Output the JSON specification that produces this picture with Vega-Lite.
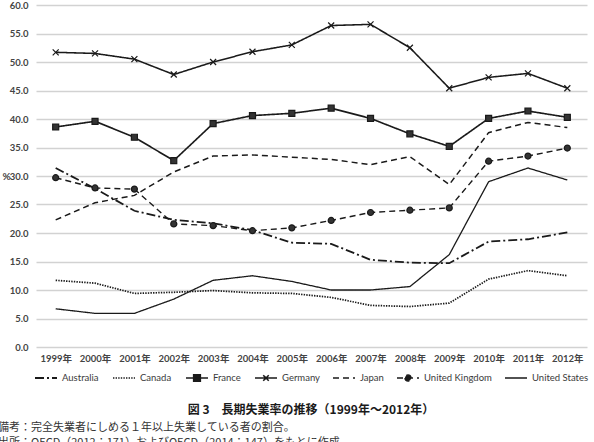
{
  "$schema": "https://vega.github.io/schema/vega-lite/v6.json",
  "width": 551,
  "height": 342,
  "autosize": {"type": "none"},
  "padding": {"left": 36, "top": 5, "right": 7, "bottom": 95},
  "background": "white",
  "title": {
    "text": ["備考：完全失業者にしめる１年以上失業している者の割合。", "出所：OECD（2012：171）およびOECD（2014：147）をもとに作成"],
    "orient": "bottom",
    "anchor": "start",
    "frame": "group",
    "dx": -38,
    "offset": 6,
    "font": "Noto Sans CJK JP",
    "fontSize": 11,
    "fontWeight": "normal",
    "color": "#333333",
    "lineHeight": 15
  },
  "datasets": {
    "ltu": [
      {"year": "1999", "country": "Australia", "rate": 31.4},
      {"year": "2000", "country": "Australia", "rate": 27.8},
      {"year": "2001", "country": "Australia", "rate": 23.9},
      {"year": "2002", "country": "Australia", "rate": 22.3},
      {"year": "2003", "country": "Australia", "rate": 21.7},
      {"year": "2004", "country": "Australia", "rate": 20.5},
      {"year": "2005", "country": "Australia", "rate": 18.3},
      {"year": "2006", "country": "Australia", "rate": 18.1},
      {"year": "2007", "country": "Australia", "rate": 15.3},
      {"year": "2008", "country": "Australia", "rate": 14.8},
      {"year": "2009", "country": "Australia", "rate": 14.7},
      {"year": "2010", "country": "Australia", "rate": 18.5},
      {"year": "2011", "country": "Australia", "rate": 18.9},
      {"year": "2012", "country": "Australia", "rate": 20.1},
      {"year": "1999", "country": "Canada", "rate": 11.7},
      {"year": "2000", "country": "Canada", "rate": 11.2},
      {"year": "2001", "country": "Canada", "rate": 9.4},
      {"year": "2002", "country": "Canada", "rate": 9.6},
      {"year": "2003", "country": "Canada", "rate": 9.9},
      {"year": "2004", "country": "Canada", "rate": 9.5},
      {"year": "2005", "country": "Canada", "rate": 9.4},
      {"year": "2006", "country": "Canada", "rate": 8.7},
      {"year": "2007", "country": "Canada", "rate": 7.3},
      {"year": "2008", "country": "Canada", "rate": 7.1},
      {"year": "2009", "country": "Canada", "rate": 7.7},
      {"year": "2010", "country": "Canada", "rate": 11.9},
      {"year": "2011", "country": "Canada", "rate": 13.4},
      {"year": "2012", "country": "Canada", "rate": 12.5},
      {"year": "1999", "country": "France", "rate": 38.6},
      {"year": "2000", "country": "France", "rate": 39.6},
      {"year": "2001", "country": "France", "rate": 36.8},
      {"year": "2002", "country": "France", "rate": 32.7},
      {"year": "2003", "country": "France", "rate": 39.2},
      {"year": "2004", "country": "France", "rate": 40.6},
      {"year": "2005", "country": "France", "rate": 41.0},
      {"year": "2006", "country": "France", "rate": 41.9},
      {"year": "2007", "country": "France", "rate": 40.1},
      {"year": "2008", "country": "France", "rate": 37.4},
      {"year": "2009", "country": "France", "rate": 35.2},
      {"year": "2010", "country": "France", "rate": 40.1},
      {"year": "2011", "country": "France", "rate": 41.4},
      {"year": "2012", "country": "France", "rate": 40.3},
      {"year": "1999", "country": "Germany", "rate": 51.7},
      {"year": "2000", "country": "Germany", "rate": 51.5},
      {"year": "2001", "country": "Germany", "rate": 50.5},
      {"year": "2002", "country": "Germany", "rate": 47.8},
      {"year": "2003", "country": "Germany", "rate": 50.0},
      {"year": "2004", "country": "Germany", "rate": 51.8},
      {"year": "2005", "country": "Germany", "rate": 53.0},
      {"year": "2006", "country": "Germany", "rate": 56.4},
      {"year": "2007", "country": "Germany", "rate": 56.6},
      {"year": "2008", "country": "Germany", "rate": 52.5},
      {"year": "2009", "country": "Germany", "rate": 45.4},
      {"year": "2010", "country": "Germany", "rate": 47.3},
      {"year": "2011", "country": "Germany", "rate": 48.0},
      {"year": "2012", "country": "Germany", "rate": 45.4},
      {"year": "1999", "country": "Japan", "rate": 22.3},
      {"year": "2000", "country": "Japan", "rate": 25.3},
      {"year": "2001", "country": "Japan", "rate": 26.6},
      {"year": "2002", "country": "Japan", "rate": 30.7},
      {"year": "2003", "country": "Japan", "rate": 33.5},
      {"year": "2004", "country": "Japan", "rate": 33.7},
      {"year": "2005", "country": "Japan", "rate": 33.3},
      {"year": "2006", "country": "Japan", "rate": 32.9},
      {"year": "2007", "country": "Japan", "rate": 32.0},
      {"year": "2008", "country": "Japan", "rate": 33.4},
      {"year": "2009", "country": "Japan", "rate": 28.5},
      {"year": "2010", "country": "Japan", "rate": 37.6},
      {"year": "2011", "country": "Japan", "rate": 39.4},
      {"year": "2012", "country": "Japan", "rate": 38.5},
      {"year": "1999", "country": "United Kingdom", "rate": 29.7},
      {"year": "2000", "country": "United Kingdom", "rate": 27.9},
      {"year": "2001", "country": "United Kingdom", "rate": 27.7},
      {"year": "2002", "country": "United Kingdom", "rate": 21.6},
      {"year": "2003", "country": "United Kingdom", "rate": 21.3},
      {"year": "2004", "country": "United Kingdom", "rate": 20.4},
      {"year": "2005", "country": "United Kingdom", "rate": 20.9},
      {"year": "2006", "country": "United Kingdom", "rate": 22.2},
      {"year": "2007", "country": "United Kingdom", "rate": 23.6},
      {"year": "2008", "country": "United Kingdom", "rate": 24.0},
      {"year": "2009", "country": "United Kingdom", "rate": 24.4},
      {"year": "2010", "country": "United Kingdom", "rate": 32.6},
      {"year": "2011", "country": "United Kingdom", "rate": 33.5},
      {"year": "2012", "country": "United Kingdom", "rate": 34.9},
      {"year": "1999", "country": "United States", "rate": 6.7},
      {"year": "2000", "country": "United States", "rate": 5.9},
      {"year": "2001", "country": "United States", "rate": 5.9},
      {"year": "2002", "country": "United States", "rate": 8.4},
      {"year": "2003", "country": "United States", "rate": 11.7},
      {"year": "2004", "country": "United States", "rate": 12.5},
      {"year": "2005", "country": "United States", "rate": 11.5},
      {"year": "2006", "country": "United States", "rate": 10.0},
      {"year": "2007", "country": "United States", "rate": 10.0},
      {"year": "2008", "country": "United States", "rate": 10.6},
      {"year": "2009", "country": "United States", "rate": 16.2},
      {"year": "2010", "country": "United States", "rate": 29.0},
      {"year": "2011", "country": "United States", "rate": 31.4},
      {"year": "2012", "country": "United States", "rate": 29.3}
    ]
  },
  "data": {"name": "ltu"},
  "encoding": {
    "x": {
      "field": "year",
      "type": "ordinal",
      "scale": {"type": "point", "padding": 0.5},
      "axis": {
        "title": null,
        "labelAngle": 0,
        "labelExpr": "datum.label + '年'",
        "ticks": false,
        "domain": false,
        "labelPadding": 6,
        "labelFont": "Lato, Noto Sans CJK JP",
        "labelFontSize": 9.5,
        "labelFontWeight": "bold",
        "labelColor": "#444444"
      }
    },
    "y": {
      "field": "rate",
      "type": "quantitative",
      "scale": {"domain": [0, 60], "nice": false},
      "axis": {
        "title": "%",
        "titleAngle": 0,
        "titleX": -34,
        "titleY": 171,
        "titleAlign": "left",
        "titleBaseline": "middle",
        "titleFont": "Lato",
        "titleFontSize": 10,
        "titleFontWeight": "bold",
        "titleColor": "#444444",
        "values": [0, 5, 10, 15, 20, 25, 30, 35, 40, 45, 50, 55, 60],
        "format": ".1f",
        "ticks": false,
        "domain": false,
        "labelPadding": 8,
        "labelFont": "Lato",
        "labelFontSize": 9.5,
        "labelFontWeight": "bold",
        "labelColor": "#444444",
        "grid": true,
        "gridColor": "#d2d2d2",
        "gridWidth": 1.3
      }
    }
  },
  "layer": [
    {
      "mark": {"type": "line", "stroke": "#1a1a1a"},
      "encoding": {
        "strokeDash": {
          "field": "country",
          "type": "nominal",
          "scale": {
            "domain": ["Australia", "Canada", "France", "Germany", "Japan", "United Kingdom", "United States"],
            "range": [[9, 3, 2, 3], [1.4, 1.2], [1, 0], [1, 0], [6, 4], [6, 4], [1, 0]]
          },
          "legend": {
            "title": "図 3　長期失業率の推移（1999年～2012年）",
            "orient": "bottom",
            "direction": "horizontal",
            "columns": 7,
            "offset": 3,
            "columnPadding": 10,
            "gridAlign": "none",
            "symbolSize": 484,
            "symbolType": {"expr": "datum.value === 'France' ? 'M-1,0H1M-0.3,-0.3H0.3V0.3H-0.3Z' : datum.value === 'Germany' ? 'M-1,0H1M-0.25,-0.25L0.25,0.25M-0.25,0.25L0.25,-0.25' : datum.value === 'United Kingdom' ? 'M-1,0H1M-0.28,0A0.28,0.28 0 1,0 0.28,0A0.28,0.28 0 1,0 -0.28,0Z' : 'M-1,0H1'"},
            "symbolStrokeWidth": {"expr": "datum.value === 'United States' ? 2.6 : datum.value === 'Canada' ? 1.3 : 2"},
            "symbolFillColor": "#1a1a1a",
            "symbolStrokeColor": "#1a1a1a",
            "labelOffset": 4,
            "labelFont": "Lato",
            "labelFontSize": 9.5,
            "labelColor": "#3a3a3a",
            "titleOrient": "bottom",
            "titleAnchor": "middle",
            "titleAlign": "center",
            "titlePadding": 20,
            "titleFont": "Noto Sans CJK JP",
            "titleFontSize": 12,
            "titleFontWeight": "bold",
            "titleColor": "#1a1a1a",
            "titleLimit": 600
          }
        },
        "strokeWidth": {
          "field": "country",
          "type": "nominal",
          "scale": {
            "domain": ["Australia", "Canada", "France", "Germany", "Japan", "United Kingdom", "United States"],
            "range": [1.8, 1.3, 1.6, 1.8, 1.9, 1.9, 2.4]
          },
          "legend": null
        }
      }
    },
    {
      "transform": [{"filter": {"field": "country", "oneOf": ["France", "Germany", "United Kingdom"]}}],
      "mark": {"type": "point", "filled": true, "fill": "#333333", "stroke": "#1a1a1a", "strokeWidth": 1.2, "opacity": 1, "size": 36},
      "encoding": {
        "shape": {
          "field": "country",
          "type": "nominal",
          "scale": {
            "domain": ["France", "Germany", "United Kingdom"],
            "range": ["square", "M-1,-1L1,1M-1,1L1,-1", "circle"]
          },
          "legend": null
        }
      }
    }
  ],
  "config": {
    "view": {"stroke": null},
    "legend": {"layout": {"bottom": {"anchor": "middle"}}}
  }
}
